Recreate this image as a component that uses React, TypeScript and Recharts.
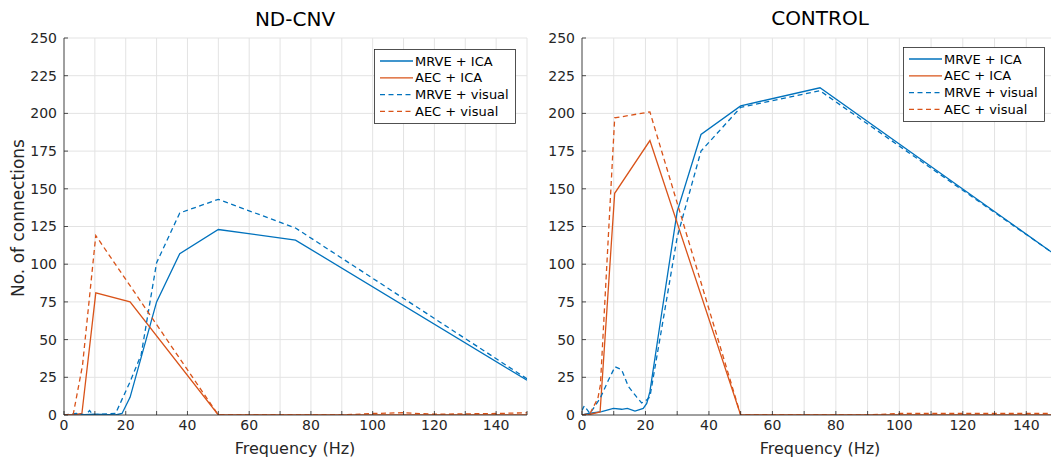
import React from 'react';
import { LineChart, Line, XAxis, YAxis, CartesianGrid, Legend } from 'recharts';

const xTicks = [0, 10, 20, 30, 40, 50, 60, 70, 80, 90, 100, 110, 120, 130, 140, 150];
const yTicks = [0, 25, 50, 75, 100, 125, 150, 175, 200, 225, 250];

const BLUE = '#0072BD';
const ORANGE = '#D95319';

// ND-CNV
const cnvMrveIcaFreq = [0, 5, 10, 16.7, 18.8, 21.4, 30, 37.5, 50, 75, 150];
const cnvMrveIcaVal = [0, 0, 0.5, 0, 1, 11.7, 75, 107, 123, 116, 23];
const cnvAecIcaFreq = [0, 3, 5.8, 10.3, 21.4, 50, 150];
const cnvAecIcaVal = [0, 0, 1, 81, 75, 0, 0];
const cnvMrveVisFreq = [0, 4, 7, 8.3, 9.4, 12, 16.7, 21.4, 25, 30, 37.5, 50, 75, 150];
const cnvMrveVisVal = [0, 1, 0, 3, 0, 0.5, 1, 22, 40, 101, 134, 143, 124, 24];
const cnvAecVisFreq = [0, 3, 6, 10.3, 50, 90, 100, 110, 120, 140, 150];
const cnvAecVisVal = [0, 0.5, 33, 119, 0, 0, 1, 1.5, 0.5, 1, 1.5];

// CONTROL
const ctlMrveIcaFreq = [0, 2, 6.2, 9.9, 12.5, 14.3, 16.7, 19.3, 20.4, 21.4, 25, 30, 37.5, 50, 75, 150];
const ctlMrveIcaVal = [0, 1, 2.2, 4.4, 3.8, 4.4, 2.6, 4.4, 7.7, 15.5, 66, 135, 186, 205, 217, 105];
const ctlAecIcaFreq = [0, 1.8, 5.7, 10.3, 21.4, 50, 150];
const ctlAecIcaVal = [0, 0, 2, 147, 182, 0, 0];
const ctlMrveVisFreq = [0, 0.7, 2.5, 5.7, 8.3, 10.4, 12.5, 14.6, 17.2, 18.8, 20.4, 21.4, 25, 30, 37.5, 50, 75, 150];
const ctlMrveVisVal = [3, 6, 1, 11, 23, 32, 30, 19, 12, 8, 10, 12, 56, 118, 175, 204, 215, 105];
const ctlAecVisFreq = [0, 2.5, 5, 5.8, 10.3, 21.4, 50, 90, 100, 150];
const ctlAecVisVal = [0, 1, 11, 20, 197, 201, 0, 0, 1, 1];

const zip = (f: number[], v: number[]) => f.map((x, i) => ({ f: x, v: v[i] }));

const seriesNames = ['MRVE + ICA', 'AEC + ICA', 'MRVE + visual', 'AEC + visual'];
const seriesColors = [BLUE, ORANGE, BLUE, ORANGE];
const seriesDash = ['', '', '5 3.5', '5 3.5'];

const XTick = (props: any) => {
  const { x, y, payload } = props;
  const ay = y - 5;
  return (
    <g>
      <line x1={x} x2={x} y1={ay} y2={ay - 4} stroke="#262626" strokeWidth={0.8} />
      {payload.value % 20 === 0 && (
        <text x={x} y={y} dy="0.71em" textAnchor="middle" fill="#262626" fontSize={14}>
          {payload.value}
        </text>
      )}
    </g>
  );
};

const YTick = (props: any) => {
  const { x, y, payload } = props;
  const ax = x + 7;
  return (
    <g>
      <line x1={ax} x2={ax + 4} y1={y} y2={y} stroke="#262626" strokeWidth={0.8} />
      <text x={x} y={y} dy="0.355em" textAnchor="end" fill="#262626" fontSize={14}>
        {payload.value}
      </text>
    </g>
  );
};

const LegendBox = () => (
  <svg width={142} height={75}>
    <rect x={0.5} y={0.5} width={141} height={74} fill="#fff" stroke="#262626" strokeWidth={0.8} />
    {seriesNames.map((n, i) => (
      <g key={n}>
        <line
          x1={6}
          x2={39}
          y1={12 + i * 16.8}
          y2={12 + i * 16.8}
          stroke={seriesColors[i]}
          strokeWidth={1.3}
          strokeDasharray={seriesDash[i] || undefined}
        />
        <text x={41} y={12 + i * 16.8} dy="0.355em" fontSize={13} fill="#000">
          {n}
        </text>
      </g>
    ))}
  </svg>
);

type PanelProps = {
  width: number;
  yAxisWidth: number;
  marginRight: number;
  legendLeft: number;
  legendTop: number;
  series: { f: number; v: number }[][];
};

const Panel = ({ width, yAxisWidth, marginRight, legendLeft, legendTop, series }: PanelProps) => (
  <LineChart width={width} height={461} margin={{ top: 38, right: marginRight, bottom: 0, left: 0 }}>
    <CartesianGrid stroke="#e3e3e3" />
    <XAxis
      dataKey="f"
      type="number"
      domain={[0, 150]}
      allowDataOverflow
      ticks={xTicks}
      interval={0}
      height={46}
      tickSize={0}
      tickMargin={5}
      tickLine={false}
      axisLine={{ stroke: '#262626', strokeWidth: 0.8 }}
      tick={(p: any) => <XTick {...p} />}
    />
    <YAxis
      type="number"
      domain={[0, 250]}
      allowDataOverflow
      ticks={yTicks}
      interval={0}
      width={yAxisWidth}
      tickSize={0}
      tickMargin={7}
      tickLine={false}
      axisLine={{ stroke: '#262626', strokeWidth: 0.8 }}
      tick={(p: any) => <YTick {...p} />}
    />
    <Legend
      layout="vertical"
      align="center"
      verticalAlign="middle"
      wrapperStyle={{ position: 'absolute', left: legendLeft, top: legendTop, width: 142, height: 75 }}
      content={() => <LegendBox />}
    />
    {series.map((d, i) => (
      <Line
        key={seriesNames[i]}
        data={d}
        dataKey="v"
        name={seriesNames[i]}
        type="linear"
        stroke={seriesColors[i]}
        strokeWidth={1.3}
        strokeDasharray={seriesDash[i] || undefined}
        dot={false}
        activeDot={false}
        isAnimationActive={false}
      />
    ))}
  </LineChart>
);

const labelStyle: React.CSSProperties = {
  position: 'absolute',
  transform: 'translate(-50%, -50%)',
  whiteSpace: 'nowrap',
  color: '#262626',
};

export default function App() {
  const cnv = [
    zip(cnvMrveIcaFreq, cnvMrveIcaVal),
    zip(cnvAecIcaFreq, cnvAecIcaVal),
    zip(cnvMrveVisFreq, cnvMrveVisVal),
    zip(cnvAecVisFreq, cnvAecVisVal),
  ];
  const ctl = [
    zip(ctlMrveIcaFreq, ctlMrveIcaVal),
    zip(ctlAecIcaFreq, ctlAecIcaVal),
    zip(ctlMrveVisFreq, ctlMrveVisVal),
    zip(ctlAecVisFreq, ctlAecVisVal),
  ];
  return (
    <div
      style={{
        position: 'absolute',
        left: 0,
        top: 0,
        width: 1051,
        height: 461,
        overflow: 'hidden',
        background: '#fff',
        fontFamily: 'DejaVu Sans',
      }}
    >
      <div style={{ position: 'absolute', left: 0, top: 0 }}>
        <Panel width={540} yAxisWidth={64} marginRight={13} legendLeft={374} legendTop={49} series={cnv} />
      </div>
      <div style={{ position: 'absolute', left: 520, top: 0 }}>
        <Panel width={548} yAxisWidth={62} marginRight={10} legendLeft={383} legendTop={47} series={ctl} />
      </div>
      <div style={{ ...labelStyle, left: 295, top: 19, fontSize: 20, color: '#000' }}>ND-CNV</div>
      <div style={{ ...labelStyle, left: 820, top: 18, fontSize: 20, color: '#000' }}>CONTROL</div>
      <div style={{ ...labelStyle, left: 295, top: 448, fontSize: 16 }}>Frequency (Hz)</div>
      <div style={{ ...labelStyle, left: 820, top: 448, fontSize: 16 }}>Frequency (Hz)</div>
      <div style={{ ...labelStyle, left: 18, top: 218, fontSize: 17, transform: 'translate(-50%, -50%) rotate(-90deg)' }}>
        No. of connections
      </div>
    </div>
  );
}
